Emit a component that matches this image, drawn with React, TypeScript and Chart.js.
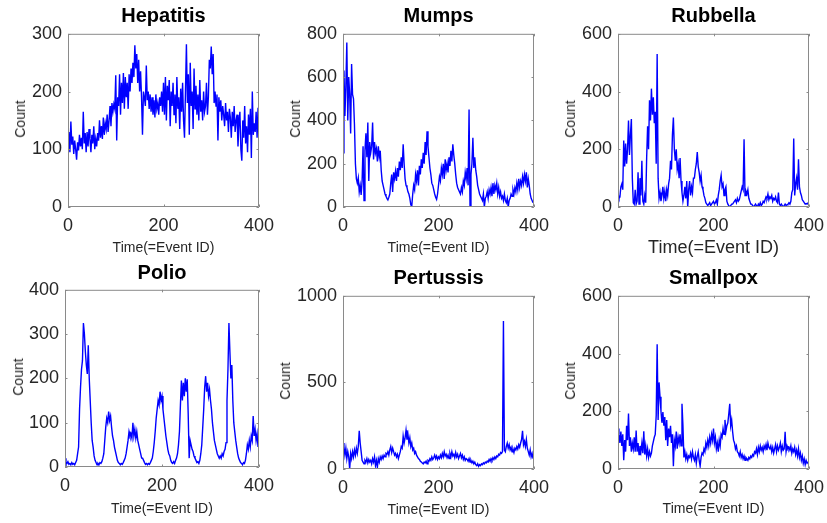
import React, { useEffect, useRef } from "react";
import { Chart, registerables } from "chart.js";

Chart.register(...registerables);

// Event IDs (every second event sampled)
const eventIds: number[] = Array.from({ length: 200 }, (_, i) => i * 2);
const xTickValues = [0, 200, 400];

const hepatitisCounts = [
  110, 130, 95, 148, 108, 122, 92, 115, 100, 82,
  112, 98, 125, 105, 120, 100, 165, 110, 128, 95,
  130, 105, 135, 118, 95, 125, 110, 140, 100, 118,
  105, 128, 115, 150, 120, 140, 118, 155, 125, 145,
  135, 160, 130, 150, 175, 140, 180, 165, 178, 170,
  228, 115, 190, 175, 230, 160, 215, 180, 232, 170,
  225, 190, 215, 170, 230, 200, 240, 215, 250, 225,
  280, 240, 265, 215, 255, 200, 235, 190, 125, 200,
  190, 175, 245, 185, 200, 170, 195, 165, 190, 160,
  185, 155, 195, 170, 180, 160, 190, 175, 200, 165,
  215, 160, 225, 150, 210, 185, 220, 140, 200, 175,
  215, 160, 195, 145, 225, 170, 190, 135, 205, 165,
  215, 150, 120, 200, 282, 180, 230, 125, 250, 175,
  200, 135, 240, 170, 210, 160, 195, 150, 220, 165,
  185, 150, 200, 165, 175, 215, 160, 190, 255, 240,
  278, 230, 265, 180, 200, 175, 195, 115, 190, 165,
  185, 150, 175, 160, 140, 180, 150, 165, 130, 170,
  155, 120, 165, 140, 175, 130, 150, 160, 105, 145,
  165, 100, 80, 150, 120, 175, 110, 140, 95, 160,
  125, 170, 85, 200, 125, 145, 130, 165, 120, 172,
];

const mumpsCounts = [
  250, 630, 420, 560, 760, 400, 600, 520, 340, 660,
  520, 500, 380, 200, 130, 110, 135, 70, 100, 56,
  120, 280, 30, 260, 340, 230, 390, 120, 300, 250,
  280, 390, 220, 300, 250, 270, 210, 280, 230, 260,
  170, 120, 100, 80, 60, 50, 40, 33, 45, 60,
  110, 150, 70, 160, 130, 165, 120, 180, 140, 210,
  170, 230, 180, 290, 200, 130, 100, 90, 70, 60,
  40, 10, 3, 60, 100, 80, 150, 120, 170, 100,
  190, 150, 220, 180, 250, 200, 300, 240, 350, 280,
  230, 180, 150, 110, 100, 80, 60, 45, 35, 60,
  100, 140, 120, 180, 150, 200, 130, 220, 170, 200,
  160, 230, 190, 260, 210, 290, 240, 200, 150, 110,
  90, 80, 70, 60, 90, 70, 120, 100, 160, 130,
  180, 100, 450, 0, 150, 200, 320, 180, 230, 170,
  140, 100, 80, 60, 50, 40, 30, 60, 0, 40,
  50, 70, 40, 80, 60, 90, 50, 110, 60, 100,
  80, 110, 60, 90, 50, 70, 40, 50, 30, 60,
  30, 20, 40, 0, 30, 40, 60, 50, 80, 60,
  90, 70, 110, 80, 130, 90, 120, 100, 140, 110,
  150, 120, 160, 90, 130, 100, 60, 40, 30, 20,
];

const rubbellaCounts = [
  40, 30, 35, 70, 80, 60, 230, 140, 220, 150,
  200, 300, 180, 250, 305, 100, 15, 10, 60, 10,
  20, 120, 10, 100, 40, 160, 20, 10, 40, 15,
  170, 280, 200, 370, 300, 410, 320, 380, 290, 330,
  150, 530, 100, 30, 50, 20, 40, 70, 30, 55,
  20, 60, 40, 80, 100, 160, 130, 250, 310, 200,
  160, 200, 130, 150, 100, 170, 90, 50, 20, 40,
  70, 30, 90, 0, 60, 90, 40, 70, 50, 100,
  100, 130, 150, 190, 140, 120, 90, 110, 70, 60,
  40, 30, 15, 10, 5, 10, 15, 5, 10, 15,
  20, 10, 15, 25, 10, 40, 60, 90, 110, 70,
  80, 40, 60, 70, 20, 10, 5, 0, 5, 10,
  10, 15, 20, 25, 15, 30, 20, 25, 40, 55,
  70, 60, 235, 40, 55, 45, 60, 30, 20, 10,
  10, 5, 0, 5, 10, 5, 0, 10, 5, 15,
  5, 10, 20, 15, 25, 35, 30, 45, 25, 35,
  30, 40, 20, 30, 25, 35, 20, 15, 50, 10,
  5, 10, 5, 0, 5, 10, 5, 8, 10, 15,
  10, 20, 50, 60, 237, 40, 80, 100, 60, 165,
  70, 50, 40, 25, 20, 15, 10, 12, 10, 15,
];

const polioCounts = [
  20, 10, 8, 12, 6, 8, 5, 10, 6, 8,
  5, 10, 15, 30, 45, 130, 180, 220, 240, 325,
  300, 260, 230, 210, 275, 200, 150, 100, 60, 45,
  25, 15, 10, 5, 8, 5, 10, 8, 12, 20,
  30, 60, 90, 110, 100, 125, 105, 115, 90, 70,
  60, 45, 35, 25, 15, 10, 8, 5, 8, 6,
  10, 15, 20, 30, 45, 60, 80, 70, 75, 65,
  100, 70, 85, 65, 80, 60, 50, 40, 30, 20,
  20, 15, 10, 6, 8, 5, 8, 6, 10, 15,
  20, 35, 55, 80, 110, 130, 150, 140, 170, 150,
  160, 130, 110, 90, 70, 55, 40, 30, 25, 15,
  10, 8, 12, 8, 15, 20, 30, 50, 80, 140,
  195, 150, 190, 160, 200, 170, 198, 120, 20, 60,
  50, 40, 35, 25, 20, 15, 10, 12, 8, 15,
  30, 50, 90, 130, 180, 205, 170, 190, 160, 175,
  150, 130, 100, 80, 60, 50, 40, 30, 25, 20,
  25, 20, 30, 25, 35, 40, 55, 150, 220, 325,
  260, 200, 230, 150, 100, 80, 60, 45, 30, 20,
  15, 10, 8, 5, 10, 8, 15, 30, 50, 40,
  60, 45, 70, 60, 115, 70, 85, 60, 75, 45,
];

const pertussisCounts = [
  150, 130, 80, 120, 60, 100, 70, 0, 90, 60,
  100, 70, 110, 80, 120, 90, 130, 220, 150, 100,
  50, 40, 30, 50, 40, 60, 35, 55, 40, 50,
  30, 60, 40, 70, 20, 50, 10, 60, 40, 70,
  55, 75, 60, 80, 70, 90, 85, 100, 80, 110,
  130, 95, 120, 100, 80, 90, 70, 85, 60, 80,
  100, 130, 120, 190, 150, 180, 224, 170, 200, 150,
  180, 130, 150, 110, 120, 90, 100, 80, 70, 60,
  55, 45, 40, 35, 30, 40, 35, 45, 30, 50,
  45, 60, 50, 70, 55, 65, 80, 60, 75, 55,
  70, 60, 80, 65, 90, 70, 100, 75, 85, 65,
  80, 60, 90, 70, 100, 75, 85, 65, 95, 70,
  85, 60, 75, 90, 65, 80, 55, 70, 50, 60,
  55, 45, 60, 40, 50, 35, 45, 30, 40, 25,
  20, 30, 15, 25, 20, 30, 25, 35, 30, 40,
  35, 45, 40, 55, 45, 60, 50, 65, 55, 70,
  60, 75, 70, 85, 80, 95, 90, 100, 855, 110,
  100, 130, 150, 120, 140, 110, 125, 100, 115, 95,
  120, 110, 130, 115, 140, 125, 150, 170, 220, 140,
  160, 130, 170, 120, 100, 80, 110, 70, 90, 60,
];

const smallpoxCounts = [
  140, 120, 90, 130, 80, 120, 30, 100, 60, 150,
  100, 192, 80, 110, 60, 90, 70, 110, 60, 133,
  60, 90, 50, 80, 60, 90, 55, 131, 50, 80,
  45, 70, 40, 60, 45, 55, 80, 95, 110, 120,
  185, 432, 170, 300, 250, 200, 160, 197, 150, 180,
  100, 170, 80, 140, 110, 150, 90, 120, 10, 100,
  80, 130, 70, 110, 90, 120, 80, 226, 150, 40,
  60, 35, 50, 30, 45, 40, 55, 35, 60, 40,
  30, 50, 20, 45, 60, 30, 10, 40, 55, 50,
  70, 60, 90, 75, 100, 80, 110, 90, 120, 100,
  140, 90, 110, 70, 90, 60, 100, 80, 120, 110,
  140, 120, 170, 130, 150, 160, 190, 226, 150, 170,
  130, 100, 90, 70, 80, 60, 55, 45, 60, 40,
  50, 35, 45, 30, 40, 35, 30, 40, 35, 45,
  40, 50, 45, 60, 55, 70, 50, 75, 60, 80,
  65, 75, 60, 80, 70, 85, 65, 90, 75, 70,
  80, 60, 75, 55, 70, 85, 60, 80, 65, 75,
  90, 60, 80, 65, 70, 129, 60, 80, 70, 75,
  65, 80, 55, 70, 60, 75, 50, 65, 45, 70,
  40, 55, 30, 45, 20, 35, 15, 30, 20, 25,
];

const hepatitisTicks = [0, 100, 200, 300];
const mumpsTicks = [0, 200, 400, 600, 800];
const rubbellaTicks = [0, 200, 400, 600];
const polioTicks = [0, 100, 200, 300, 400];
const pertussisTicks = [0, 500, 1000];
const smallpoxTicks = [0, 200, 400, 600];

const diseaseNames = ["Hepatitis", "Mumps", "Rubbella", "Polio", "Pertussis", "Smallpox"];

const FONT = "'Liberation Sans', Arial, Helvetica, sans-serif";

type PanelSpec = {
  title: string;
  counts: number[];
  yTicks: number[];
  box: [number, number, number, number];
  titleY: number;
  countX: number;
  timeY: number;
  timeSize: number;
};

const panels: PanelSpec[] = [
  { title: diseaseNames[0], counts: hepatitisCounts, yTicks: hepatitisTicks, box: [68, 31, 259, 207], titleY: 15, countX: 20, timeY: 247, timeSize: 14 },
  { title: diseaseNames[1], counts: mumpsCounts, yTicks: mumpsTicks, box: [343, 31, 534, 207], titleY: 15, countX: 295, timeY: 247, timeSize: 14 },
  { title: diseaseNames[2], counts: rubbellaCounts, yTicks: rubbellaTicks, box: [618, 31, 809, 207], titleY: 15, countX: 570, timeY: 247, timeSize: 18 },
  { title: diseaseNames[3], counts: polioCounts, yTicks: polioTicks, box: [65, 287, 259, 467], titleY: 272, countX: 18, timeY: 508, timeSize: 14 },
  { title: diseaseNames[4], counts: pertussisCounts, yTicks: pertussisTicks, box: [343, 293, 534, 469], titleY: 277, countX: 285, timeY: 509, timeSize: 14 },
  { title: diseaseNames[5], counts: smallpoxCounts, yTicks: smallpoxTicks, box: [618, 293, 809, 469], titleY: 277, countX: 570, timeY: 508, timeSize: 14 },
];

const PAD_L = 62;
const PAD_T = 14;
const PAD_R = 24;
const PAD_B = 34;

const boxPlugin = {
  id: "matlabBox",
  afterDatasetsDraw(chart: any) {
    const { ctx, chartArea } = chart;
    const { left, top, right, bottom } = chartArea;
    const xs = chart.scales.x;
    const ys = chart.scales.y;
    ctx.save();
    ctx.strokeStyle = "#8a8a8a";
    ctx.lineWidth = 1;
    ctx.beginPath();
    ctx.rect(left + 0.5, top + 0.5, right - left - 1, bottom - top - 1);
    ctx.stroke();
    const tl = 2.5;
    ctx.beginPath();
    xs.ticks.forEach((t: any) => {
      const px = Math.round(xs.getPixelForValue(t.value)) + 0.5;
      ctx.moveTo(px, bottom);
      ctx.lineTo(px, bottom - tl);
      ctx.moveTo(px, top);
      ctx.lineTo(px, top + tl);
    });
    ys.ticks.forEach((t: any) => {
      const py = Math.round(ys.getPixelForValue(t.value)) + 0.5;
      ctx.moveTo(left, py);
      ctx.lineTo(left + tl, py);
      ctx.moveTo(right, py);
      ctx.lineTo(right - tl, py);
    });
    ctx.stroke();
    ctx.restore();
  },
};

function DiseasePanel({ spec }: { spec: PanelSpec }) {
  const ref = useRef<HTMLCanvasElement | null>(null);
  const [l, t, r, b] = spec.box;
  const w = r - l + PAD_L + PAD_R;
  const h = b - t + PAD_T + PAD_B;

  useEffect(() => {
    if (!ref.current) return;
    const yMax = spec.yTicks[spec.yTicks.length - 1];
    const chart = new Chart(ref.current, {
      type: "line",
      data: {
        datasets: [
          {
            data: eventIds.map((x, i) => ({ x, y: spec.counts[i] })),
            borderColor: "#0000ff",
            borderWidth: 1.4,
            pointRadius: 0,
            tension: 0,
            fill: false,
          },
        ],
      },
      options: {
        responsive: false,
        maintainAspectRatio: false,
        animation: false,
        events: [],
        layout: { padding: { left: 0, top: PAD_T, right: PAD_R, bottom: 0 } },
        plugins: {
          legend: { display: false },
          tooltip: { enabled: false },
          title: { display: false },
        },
        scales: {
          x: {
            type: "linear",
            min: 0,
            max: 400,
            grid: { display: false, drawTicks: false, tickLength: 0 },
            border: { display: false },
            afterBuildTicks: (s: any) => {
              s.ticks = xTickValues.map((v) => ({ value: v }));
            },
            afterFit: (s: any) => {
              s.height = PAD_B;
            },
            ticks: {
              autoSkip: false,
              maxRotation: 0,
              padding: 8,
              color: "#262626",
              font: { family: FONT, size: 18 },
              callback: (v: any) => String(v),
            },
          },
          y: {
            type: "linear",
            min: 0,
            max: yMax,
            grid: { display: false, drawTicks: false, tickLength: 0 },
            border: { display: false },
            afterBuildTicks: (s: any) => {
              s.ticks = spec.yTicks.map((v) => ({ value: v }));
            },
            afterFit: (s: any) => {
              s.width = PAD_L;
            },
            ticks: {
              autoSkip: false,
              padding: 6,
              color: "#262626",
              font: { family: FONT, size: 18 },
              callback: (v: any) => String(v),
            },
          },
        },
      },
      plugins: [boxPlugin],
    } as any);
    return () => chart.destroy();
  }, []);

  const cx = (l + r) / 2;
  const cy = (t + b) / 2;
  const center: React.CSSProperties = {
    position: "absolute",
    whiteSpace: "nowrap",
    lineHeight: 1,
    fontFamily: FONT,
  };
  return (
    <>
      <canvas
        ref={ref}
        width={w}
        height={h}
        style={{ position: "absolute", left: l - PAD_L, top: t - PAD_T, width: w, height: h }}
      />
      <div
        style={{
          ...center,
          left: cx,
          top: spec.titleY,
          transform: "translate(-50%, -50%)",
          fontWeight: "bold",
          fontSize: 20,
          color: "#000",
        }}
      >
        {spec.title}
      </div>
      <div
        style={{
          ...center,
          left: spec.countX,
          top: cy,
          transform: "translate(-50%, -50%) rotate(-90deg)",
          fontSize: 14,
          color: "#262626",
        }}
      >
        Count
      </div>
      <div
        style={{
          ...center,
          left: cx,
          top: spec.timeY,
          transform: "translate(-50%, -50%)",
          fontSize: spec.timeSize,
          color: "#262626",
        }}
      >
        Time(=Event ID)
      </div>
    </>
  );
}

export default function App() {
  return (
    <div
      style={{
        position: "absolute",
        left: 0,
        top: 0,
        width: 827,
        height: 523,
        background: "#ffffff",
        overflow: "hidden",
      }}
    >
      {panels.map((p) => (
        <DiseasePanel key={p.title} spec={p} />
      ))}
    </div>
  );
}
